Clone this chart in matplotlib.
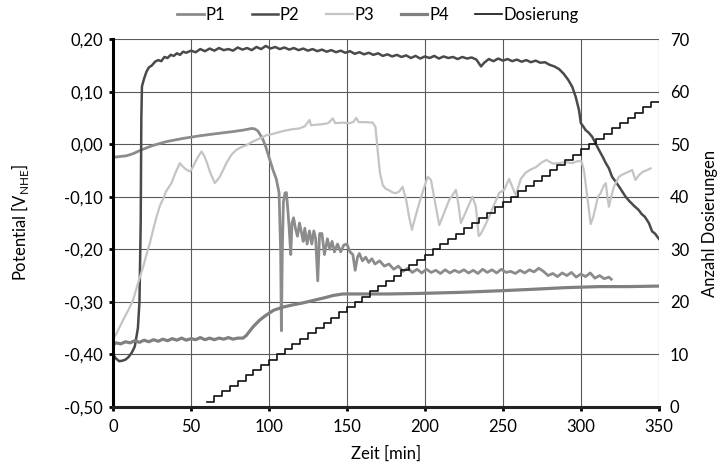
import matplotlib
matplotlib.use("Agg")
import matplotlib.pyplot as plt
from matplotlib.ticker import FuncFormatter

plt.rcParams['font.family'] = ['Lato', 'DejaVu Sans']
plt.rcParams['mathtext.fontset'] = 'custom'
plt.rcParams['mathtext.rm'] = 'Lato'

# --- data ---
p1_t = [0, 3, 8.7, 13, 17.3, 25, 34.4, 45, 55.7, 66, 77, 84, 89, 91, 93, 96, 98, 100.4, 102.5,
        104.7, 106.5, 107.5, 108, 108.6, 109.3, 110.3, 111.2, 112, 113, 114, 114.8, 115.8, 117,
        118.3, 119.6, 121, 122, 123, 124.5, 126, 127.5, 128.8, 130, 131.3, 132.5, 134, 135.6,
        137.5, 139, 140.5, 142, 144, 146, 148, 150, 152, 153.8, 155.3, 156.8, 158, 160, 162, 164,
        166, 168, 171, 174, 177, 180, 183, 186, 189, 192, 195, 198, 201, 204, 207, 210, 213, 216,
        219, 222, 225, 228, 231, 234, 237, 240, 243, 246, 249, 252, 255, 258, 261, 264, 267, 270,
        273, 276, 279, 282, 285, 288, 291, 294, 297, 300, 303, 306, 309, 312, 315, 318, 319.5]
p1_v = [-0.025, -0.024, -0.022, -0.018, -0.012, -0.003, 0.005, 0.011, 0.016, 0.020, 0.024, 0.027,
        0.030, 0.029, 0.025, 0.010, -0.005, -0.028, -0.048, -0.066, -0.092, -0.200, -0.355, -0.200,
        -0.110, -0.093, -0.092, -0.120, -0.160, -0.210, -0.150, -0.140, -0.160, -0.175, -0.150,
        -0.170, -0.185, -0.160, -0.190, -0.165, -0.190, -0.165, -0.180, -0.260, -0.170, -0.170,
        -0.210, -0.180, -0.200, -0.185, -0.205, -0.190, -0.205, -0.192, -0.190, -0.205, -0.210,
        -0.240, -0.215, -0.208, -0.222, -0.215, -0.225, -0.218, -0.228, -0.222, -0.232, -0.228,
        -0.238, -0.232, -0.242, -0.236, -0.244, -0.238, -0.245, -0.238, -0.244, -0.240, -0.246,
        -0.239, -0.245, -0.240, -0.244, -0.239, -0.245, -0.240, -0.246, -0.238, -0.244, -0.239,
        -0.245, -0.238, -0.244, -0.242, -0.246, -0.240, -0.245, -0.239, -0.243, -0.236, -0.242,
        -0.250, -0.246, -0.252, -0.245, -0.250, -0.244, -0.253, -0.247, -0.252, -0.245, -0.255,
        -0.250, -0.256, -0.253, -0.257]

p2_t = [0, 2, 4, 6, 8, 10, 12, 14, 16, 17, 17.8, 18.2, 18.6, 20, 21.5, 23, 25, 27, 29, 31, 33, 35,
        37, 39, 41, 43, 45, 47, 50, 53, 56, 59, 62, 65, 68, 71, 74, 77, 80, 83, 86, 89, 92, 95, 98,
        101, 104, 107, 110, 113, 116, 119, 122, 125, 128, 131, 134, 137, 140, 143, 146, 149, 152,
        155, 158, 161, 164, 167, 170, 173, 176, 179, 182, 185, 188, 191, 194, 197, 200, 203, 206,
        209, 212, 215, 218, 221, 224, 227, 230, 233, 236, 238, 241, 244, 247, 250, 253, 256, 259,
        262, 265, 268, 271, 274, 277, 280, 283, 286, 289, 292, 294.5, 296.7, 298.8, 300, 301.5,
        303, 305, 307.3, 309, 311.6, 314, 316, 318, 320, 322, 325, 328.7, 331, 334, 337, 339, 341,
        343.6, 345.7, 347.5, 350]
p2_v = [-0.400, -0.408, -0.413, -0.412, -0.410, -0.405, -0.397, -0.385, -0.350, -0.300, -0.150,
        0.050, 0.110, 0.125, 0.138, 0.146, 0.150, 0.157, 0.160, 0.158, 0.166, 0.164, 0.170, 0.168,
        0.173, 0.170, 0.176, 0.174, 0.178, 0.175, 0.181, 0.177, 0.182, 0.178, 0.183, 0.179, 0.181,
        0.178, 0.184, 0.180, 0.183, 0.179, 0.185, 0.181, 0.187, 0.182, 0.185, 0.181, 0.184, 0.180,
        0.183, 0.179, 0.182, 0.178, 0.181, 0.177, 0.180, 0.176, 0.179, 0.175, 0.178, 0.174, 0.177,
        0.172, 0.175, 0.171, 0.174, 0.170, 0.173, 0.168, 0.171, 0.167, 0.170, 0.166, 0.169, 0.164,
        0.168, 0.163, 0.167, 0.164, 0.168, 0.163, 0.167, 0.164, 0.166, 0.162, 0.166, 0.163, 0.165,
        0.161, 0.148, 0.155, 0.162, 0.158, 0.163, 0.159, 0.162, 0.158, 0.161, 0.157, 0.160, 0.156,
        0.159, 0.155, 0.156, 0.151, 0.148, 0.143, 0.134, 0.122, 0.109, 0.090, 0.065, 0.040, 0.034,
        0.027, 0.022, 0.014, 0.004, -0.011, -0.024, -0.036, -0.046, -0.062, -0.070, -0.083, -0.100,
        -0.108, -0.117, -0.125, -0.133, -0.138, -0.150, -0.166, -0.170, -0.180]

p3_t = [0, 2, 4, 6.6, 10, 13, 16, 19.4, 21.5, 23.7, 26, 28, 30, 32, 34, 37.5, 40, 42.9, 44, 46, 48,
        49.5, 51.5, 53.5, 55, 56.8, 58.5, 60, 62.5, 65.3, 67, 68.5, 70.5, 72.7, 76, 79, 82, 85.5,
        89, 92, 95, 98.3, 103, 109, 114, 119.6, 123, 126, 127, 130, 134, 138, 141, 142.5, 147,
        151.6, 154, 156, 157.5, 162, 166.5, 168.3, 169.7, 171.2, 173, 175, 177.2, 179.4, 181.5,
        183.6, 185.7, 188, 190, 191.7, 194, 196.4, 199, 201.8, 203.9, 206.5, 209.2, 212.4, 215.6,
        219.9, 221.5, 223.1, 226.8, 230.5, 232.7, 234.5, 236, 238.5, 241.2, 244.4, 247.6, 250.8,
        254, 256, 258.3, 260, 261.5, 264.7, 268, 271, 275.3, 278, 282, 286, 290, 294.5, 298, 300.5,
        302, 303, 304.7, 306.3, 308, 309.5, 311, 312.7, 314.5, 316, 317, 318, 319.5, 321.2, 324.4,
        326.5, 328.7, 331, 332.9, 335, 337.2, 340, 342, 344.7]
p3_v = [-0.370, -0.362, -0.350, -0.334, -0.315, -0.296, -0.265, -0.233, -0.210, -0.188, -0.160,
        -0.138, -0.118, -0.105, -0.090, -0.074, -0.055, -0.036, -0.040, -0.046, -0.050, -0.052,
        -0.042, -0.030, -0.022, -0.014, -0.022, -0.033, -0.055, -0.074, -0.068, -0.062, -0.050,
        -0.036, -0.020, -0.011, -0.006, -0.002, 0.004, 0.008, 0.012, 0.017, 0.020, 0.025, 0.028,
        0.030, 0.034, 0.046, 0.036, 0.037, 0.038, 0.040, 0.049, 0.040, 0.041, 0.040, 0.042, 0.050,
        0.042, 0.042, 0.041, 0.033, -0.011, -0.055, -0.078, -0.085, -0.088, -0.092, -0.093, -0.090,
        -0.081, -0.106, -0.140, -0.163, -0.137, -0.112, -0.087, -0.062, -0.068, -0.110, -0.154,
        -0.130, -0.106, -0.087, -0.115, -0.150, -0.125, -0.100, -0.119, -0.175, -0.170, -0.155,
        -0.138, -0.115, -0.093, -0.087, -0.066, -0.081, -0.097, -0.080, -0.066, -0.054, -0.048,
        -0.044, -0.034, -0.030, -0.037, -0.036, -0.034, -0.036, -0.032, -0.033, -0.050, -0.074,
        -0.115, -0.152, -0.138, -0.119, -0.100, -0.093, -0.080, -0.074, -0.100, -0.119, -0.100,
        -0.081, -0.062, -0.058, -0.055, -0.052, -0.049, -0.068, -0.059, -0.052, -0.050, -0.046]

p4_t = [0, 2, 5, 8, 11, 14, 17, 20, 23, 26, 29, 32, 35, 38, 41, 44, 47, 50, 53, 56, 59, 62, 65, 68,
        71, 74, 77, 80, 83.4, 85.5, 87.6, 90, 92, 94, 97, 100.4, 103, 106, 109, 115, 121.8, 130.3,
        136, 141, 147.4, 160, 177, 196, 222, 247.6, 270, 290, 311.6, 330, 350]
p4_v = [-0.382, -0.378, -0.380, -0.376, -0.378, -0.374, -0.377, -0.373, -0.376, -0.372, -0.375,
        -0.371, -0.374, -0.370, -0.373, -0.369, -0.373, -0.370, -0.372, -0.368, -0.372, -0.369,
        -0.372, -0.369, -0.371, -0.368, -0.371, -0.369, -0.369, -0.364, -0.356, -0.347, -0.341,
        -0.335, -0.328, -0.321, -0.316, -0.313, -0.310, -0.306, -0.302, -0.296, -0.292, -0.288,
        -0.285, -0.285, -0.285, -0.284, -0.282, -0.279, -0.276, -0.273, -0.271, -0.271, -0.270]

dos_t = [60, 65, 70, 75, 80, 85, 90, 95, 100, 105, 110, 115, 120, 125, 130, 135, 140, 145, 150,
         155, 160, 165, 170, 175, 180, 185, 190, 195, 200, 205, 210, 215, 220, 225, 230, 235, 240,
         245, 250, 255, 260, 265, 270, 275, 280, 285, 290, 295, 300, 305, 310, 315, 320, 325, 330,
         335, 340, 345, 350]
dos_n = [1, 2, 3, 4, 5, 6, 7, 8, 9, 10, 11, 12, 13, 14, 15, 16, 17, 18, 19, 20, 21, 22, 23, 24,
         25, 26, 27, 28, 29, 30, 31, 32, 33, 34, 35, 36, 37, 38, 39, 40, 41, 42, 43, 44, 45, 46,
         47, 48, 49, 50, 51, 52, 53, 54, 55, 56, 57, 58, 58]

x_ticks = [0, 50, 100, 150, 200, 250, 300, 350]
y_ticks = [-0.5, -0.4, -0.3, -0.2, -0.1, 0.0, 0.1, 0.2]
y2_ticks = [0, 10, 20, 30, 40, 50, 60, 70]

fig = plt.figure(figsize=(7.24, 4.71), dpi=100)
ax = fig.add_axes([0.156, 0.136, 0.754, 0.781])
ax2 = ax.twinx()

l1, = ax.plot(p1_t, p1_v, color='#8c8c8c', lw=2.0, label='P1')
l2, = ax.plot(p2_t, p2_v, color='#4a4a4a', lw=1.8, label='P2')
l3, = ax.plot(p3_t, p3_v, color='#c4c4c4', lw=1.6, label='P3')
l4, = ax.plot(p4_t, p4_v, color='#808080', lw=2.3, label='P4')
l5, = ax2.step(dos_t, dos_n, where='post', color='#111111', lw=1.2, label='Dosierung')

ax.set_xlim(0, 350)
ax.set_ylim(-0.5, 0.2)
ax2.set_ylim(0, 70)
ax.set_xticks(x_ticks)
ax.set_yticks(y_ticks)
ax2.set_yticks(y2_ticks)
ax.yaxis.set_major_formatter(FuncFormatter(lambda v, p: f'{v:.2f}'.replace('.', ',')))

ax.grid(True, color='#5a5a5a', lw=0.8)
for s in ['top', 'right']:
    ax.spines[s].set_visible(False)
    ax2.spines[s].set_visible(False)
ax2.spines['left'].set_visible(False)
ax2.spines['bottom'].set_visible(False)
ax.spines['left'].set_linewidth(2.2)
ax.spines['bottom'].set_linewidth(2.2)
ax.spines['bottom'].set_color('#222222')

ax.tick_params(axis='both', direction='out', length=3, width=2, labelsize=12, pad=4)
ax.tick_params(axis='x', pad=6)
ax2.tick_params(axis='y', length=0, labelsize=12, pad=8)

ax.set_xlabel('Zeit [min]', fontsize=12, labelpad=7)
ax.set_ylabel(r'Potential [V$_{\mathrm{NHE}}$]', fontsize=12, labelpad=24)
ax2.set_ylabel('Anzahl Dosierungen', fontsize=12, labelpad=9)

fig.legend(handles=[l1, l2, l3, l4, l5], loc='center', bbox_to_anchor=(0.522, 0.968),
           ncol=5, frameon=False, fontsize=12, handlelength=1.6, handletextpad=0.1,
           columnspacing=1.6)

fig.savefig('out.png', dpi=100)
